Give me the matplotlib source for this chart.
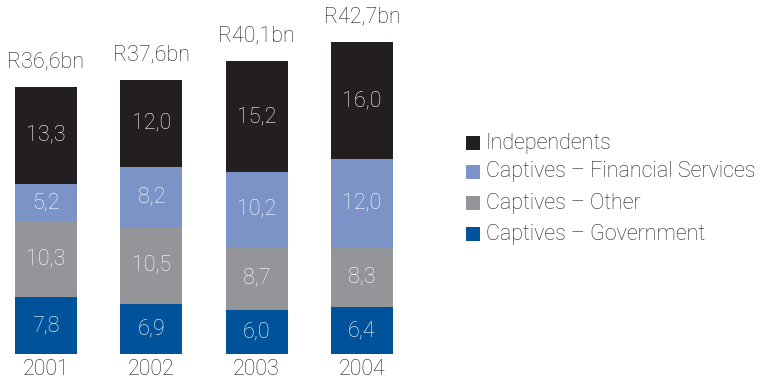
import matplotlib
matplotlib.use("Agg")
import matplotlib.pyplot as plt
from matplotlib.patches import Rectangle

years = ["2001", "2002", "2003", "2004"]
totals = ["R36,6bn", "R37,6bn", "R40,1bn", "R42,7bn"]
series_names = ["Captives – Government", "Captives – Other",
                "Captives – Financial Services", "Independents"]
government = [7.8, 6.9, 6.0, 6.4]
other = [10.3, 10.5, 8.7, 8.3]
financial = [5.2, 8.2, 10.2, 12.0]
independents = [13.3, 12.0, 15.2, 16.0]
colors = ["#00529b", "#939598", "#7b93c6", "#231f20"]

plt.rcParams["font.family"] = ["Roboto", "DejaVu Sans"]
FW = "light"
FS = 15.5

fig = plt.figure(figsize=(7.61, 3.83), dpi=100)
ax = fig.add_axes([0, 1 - 354 / 383, 410 / 761, 354 / 383])
ax.set_xlim(-0.437, 3.457)
ax.set_ylim(0, 48.5)
ax.axis("off")

x = list(range(len(years)))
width = 0.59
bottoms = [0.0] * len(years)
for vals, col in zip([government, other, financial, independents], colors):
    ax.bar(x, vals, width, bottom=bottoms, color=col, linewidth=0)
    for i, v in enumerate(vals):
        ax.text(x[i], bottoms[i] + v / 2, f"{v:.1f}".replace(".", ","),
                ha="center", va="center", color="white", fontsize=FS,
                fontweight=FW)
    bottoms = [b + v for b, v in zip(bottoms, vals)]

for i, t in enumerate(totals):
    ax.annotate(t, (x[i], bottoms[i]), xytext=(0, 18), textcoords="offset points",
                ha="center", va="center", fontsize=FS, fontweight=FW, color="#231f20")
    ax.annotate(years[i], (x[i], 0), xytext=(0, -11), textcoords="offset points",
                ha="center", va="center", fontsize=FS, fontweight=FW, color="#231f20")

# Legend: top-to-bottom order reversed from stacking order
legend_rows = list(zip(series_names, colors))[::-1]
row_y = [143, 172, 203, 234]
for (name, col), yp in zip(legend_rows, row_y):
    fig.patches.append(Rectangle((466 / 761, 1 - (yp + 7) / 383), 14 / 761, 14 / 383,
                                 transform=fig.transFigure, color=col, lw=0))
    fig.text(486 / 761, 1 - yp / 383, name, ha="left", va="center",
             fontsize=FS, fontweight=FW, color="#231f20")

fig.savefig("out.png", dpi=100)
